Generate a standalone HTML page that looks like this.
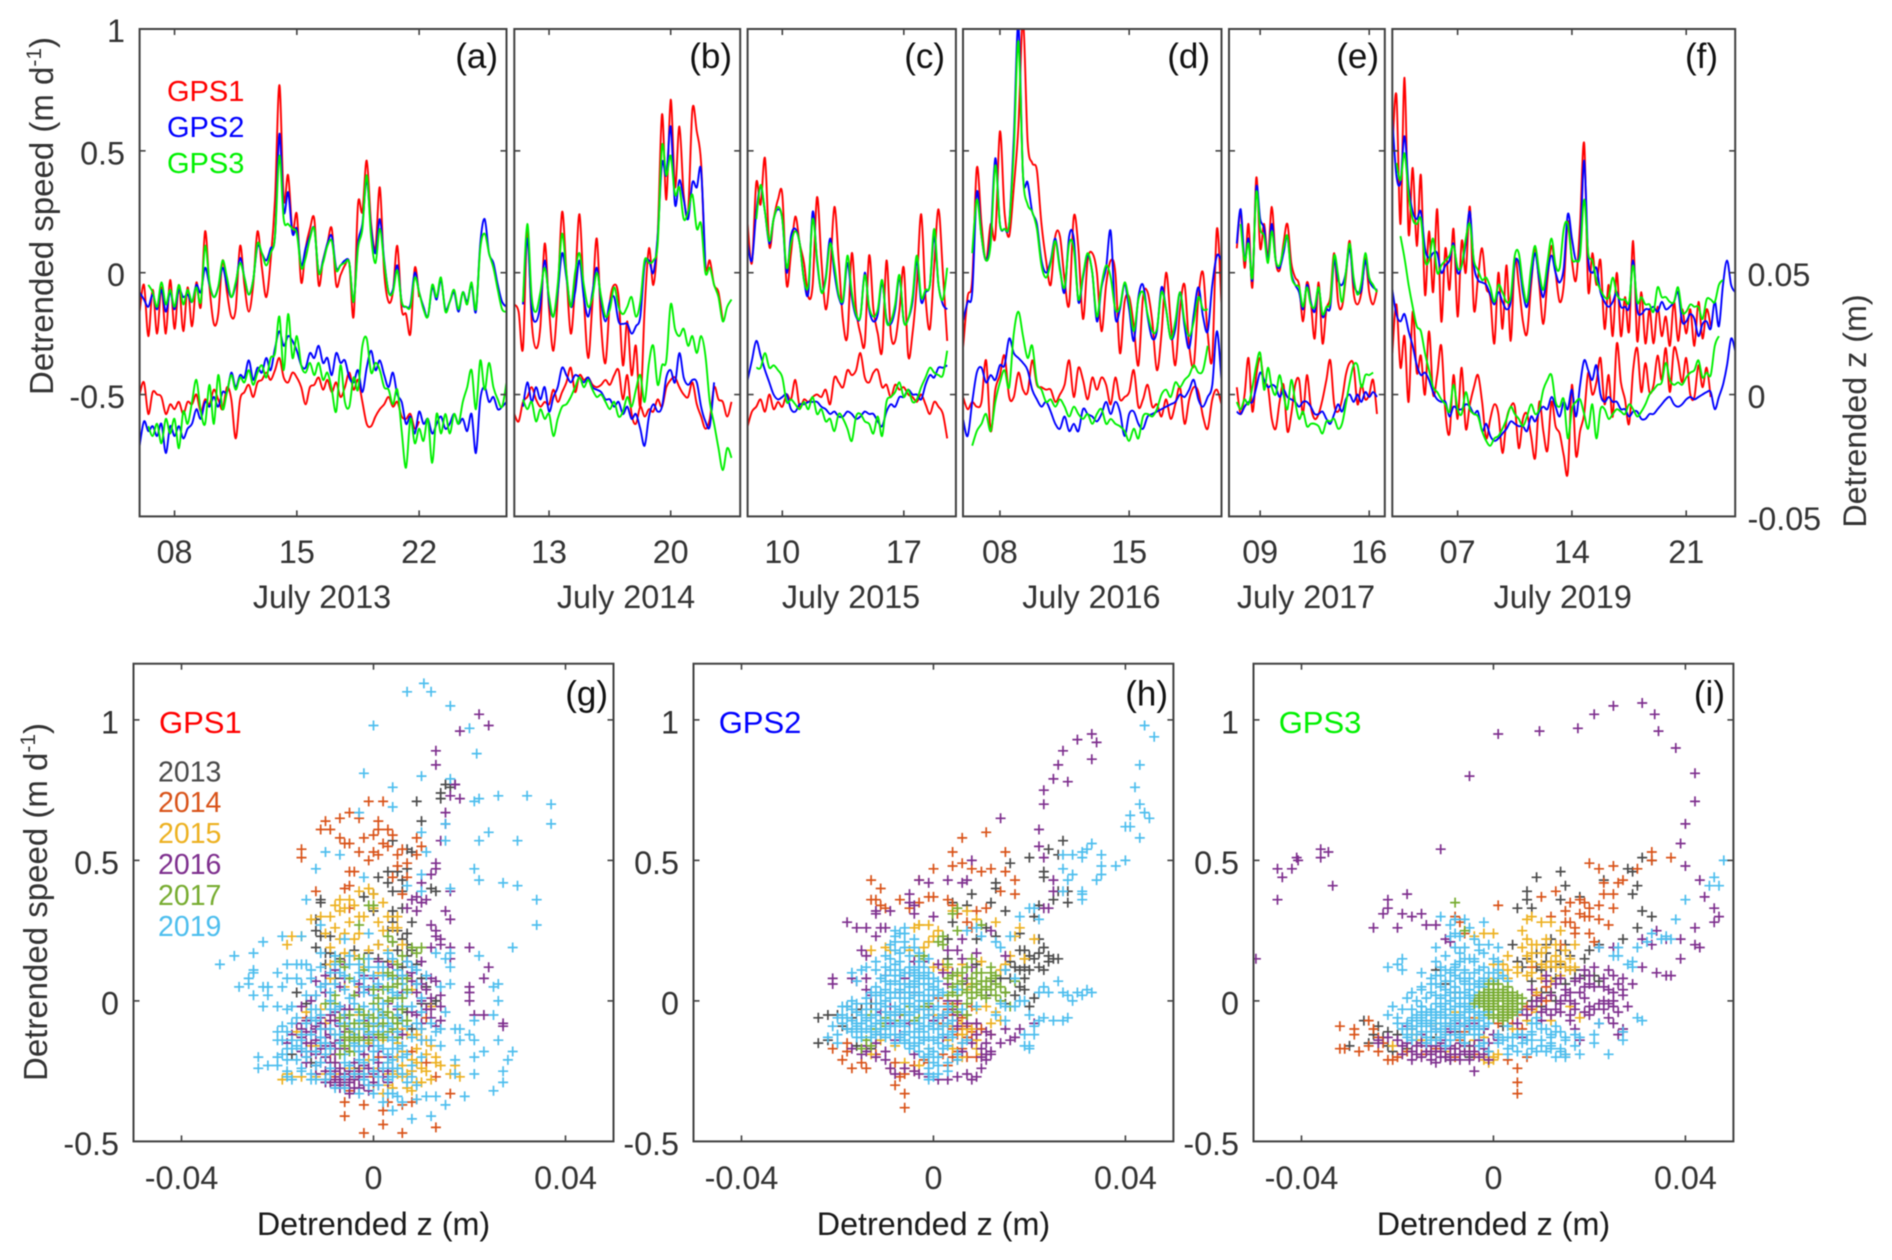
<!DOCTYPE html>
<html><head><meta charset="utf-8"><title>Detrended speed and elevation</title>
<style>html,body{margin:0;padding:0;background:#fff}svg{display:block;filter:blur(.5px)}text{font-family:"Liberation Sans",Arial,sans-serif;fill:#333}</style>
</head><body>
<svg id="figure" width="1892" height="1260" viewBox="0 0 1892 1260" xmlns="http://www.w3.org/2000/svg"></svg>
<script>
// ---------- Data: speed in cm/d, z in mm, sampled every quarter day ----------
const sampleStep=0.25;
const speedA1=[-16,-5,-26,-7,-25,-6,-25,-3,-23,-5,-24,-6,-22,-4,-14,17,-6,-21,-17,5,-8,-18,-15,11,-5,-16,-5,17,2,-10,5,30,77,30,40,17,24,-4,10,18,22,-5,5,12,18,-5,-1,3,4,-18,28,25,46,20,10,35,0,-12,-8,11,-15,-17,-25,2,-10];
const speedA2=[-8,-11,-14,-9,-15,-7,-16,-8,-15,-7,-10,-9,-12,-5,-8,2,-5,-10,-6,2,-5,-10,-5,6,-2,-9,-3,11,8,5,10,15,57,25,33,16,18,3,10,15,18,0,5,12,15,2,3,5,4,-12,12,20,38,18,8,22,5,-8,-7,3,-12,-14,-13,0,-8,-14,-18,-6,-11,-3,-15,-12,-8,-16,-8,-12,-5,-16,12,22,8,4,-5,-12,-14];
const speedA3=[-5,-8,-14,-4,-13,-7,-14,-5,-13,-7,-12,-6,-12,11,-4,-10,-6,5,-2,-10,-4,4,-2,-9,-3,12,8,3,8,15,48,22,20,18,16,2,6,14,18,0,4,11,13,1,3,4,4,-12,10,18,40,15,4,18,4,-8,-8,1,-12,-14,-14,-2,-8,-15,-18,-5,-10,-2,-16,-12,-7,-15,-8,-13,-4,-15,10,16,8,2,-7,-15,-16];
const zA1=[0,5,-8,1,0,-1,-8,-4,-6,-3,-8,-3,-4,0,-7,-2,-4,2,-2,-6,3,-2,-18,-2,1,4,-1,5,6,9,6,10,15,7,5,9,7,3,-4,3,4,7,2,6,1,5,-1,3,9,2,6,-3,-12,-13,-9,-6,-4,-1,-5,-3,-9,-10,-8,-14,-11];
const zA2=[-21,-11,-15,-13,-17,-12,-24,-13,-17,-13,-18,-14,-12,-6,-10,-3,-5,-1,-5,1,1,9,3,8,7,14,6,11,9,15,10,19,26,20,24,22,18,12,11,17,15,20,13,15,8,17,13,14,7,5,10,1,11,18,10,14,8,3,9,0,-3,-12,-9,-16,-7,-12,-10,-16,-12,-9,-14,-12,-8,-12,-10,-15,-8,-24,-2,3,-3,-1,-6,-5,-3];
const zA3=[-13,-17,-12,-20,-10,-16,-10,-22,-7,-12,-3,6,-7,-12,4,-12,8,-6,1,8,2,7,5,10,4,9,12,7,15,17,32,10,33,15,24,12,9,13,8,13,6,9,2,-7,12,-3,-5,7,2,20,23,9,13,10,3,2,-4,2,-15,-30,-10,-20,-14,-19,-10,-28,-8,-16,-8,-16,-8,-12,-3,3,10,-6,14,2,13,3,-2,-5,5];
const speedB1=[-13,-16,-31,18,-20,-31,-22,12,-15,-32,-10,25,0,-25,-5,24,-10,-35,-12,14,-22,-37,-12,-5,-10,-38,-20,-42,-30,-55,-15,10,-5,15,65,30,71,35,60,32,25,67,58,45,3,5,-5,-8,-20];
const speedB2=[-13,14,-15,-20,-13,5,-12,-18,-8,8,-2,-14,-8,5,-10,-18,-8,2,-12,-20,-12,-10,-20,-21,-21,-25,-22,-18,3,5,0,15,45,40,60,28,38,30,22,37,35,42,2];
const speedB3=[-12,20,-10,-16,-8,2,-10,-18,-5,16,0,-14,0,8,-5,-14,-10,0,-10,-18,-15,-6,-14,-17,-14,-10,-18,-12,5,4,5,12,52,40,48,32,35,22,25,32,18,20,0,2,-5,-10,-20,-14,-11];
const zB1=[-8,-11,-3,-1,3,-2,-5,-3,-4,2,-3,1,5,11,1,8,6,7,4,3,4,6,4,8,10,-2,8,-8,-12,-5,-9,-6,-7,-2,-5,3,6,7,3,0,-1,5,-4,-9,-14,-10,3,-2,-3,-9,-3];
const zB2=[-5,5,-3,3,-2,3,-7,-1,3,11,8,5,8,7,5,7,3,2,1,-2,-2,-5,-3,-8,-5,-10,-8,-14,-21,-9,-4,-7,-5,7,10,5,17,7,4,6,5,-5,-11,-13,5];
const zB3=[-2,-6,-3,-11,-6,-10,-8,-17,-10,-5,-4,-1,3,7,3,6,2,-1,0,-3,-6,-3,-9,-7,-1,-5,2,8,-3,13,20,4,12,14,37,27,24,27,20,24,17,24,16,-3,-12,-22,-31,-22,-26];
const speedC1=[20,4,37,28,47,11,22,30,32,-5,8,23,12,4,-10,-5,31,5,-15,0,27,5,-20,-26,8,-15,-25,-29,7,-15,-25,-32,5,-25,-28,-15,2,-34,-25,-5,24,-10,-23,3,26,0,-28];
const speedC2=[12,5,25,35,25,12,22,26,22,0,15,18,12,-3,-8,25,5,-8,-2,14,0,-10,-12,4,-10,-18,-18,0,-15,-20,-17,-4,-19,-21,-15,-2,-20,-19,-12,5,-12,-8,-5,15,-5,-13,-15];
const speedC3=[22,36,25,13,22,27,22,2,12,17,12,-3,-5,22,6,-8,-3,12,3,-9,-11,7,-8,-17,-18,-1,-14,-18,-15,-3,-20,-20,-13,-1,-20,-19,-10,7,-10,-7,-5,18,-5,-11,2];
const zC1=[-13,-7,-5,-2,-7,0,-6,-3,-5,0,-2,6,-5,-2,-3,-1,0,-1,2,-4,7,5,3,10,8,10,17,7,5,9,10,3,4,-1,4,2,3,0,-1,-3,0,-4,-8,-3,-5,-8,-18];
const zC2=[6,14,22,16,10,5,0,-2,-1,0,-6,-7,-4,-4,-3,-3,-3,-5,-6,-8,-7,-9,-9,-7,-8,-10,-9,-7,-8,-8,-11,-13,-7,-4,-5,-1,-1,2,0,0,-2,4,8,7,11,11,12];
const zC3=[11,11,17,11,12,10,7,-3,-2,-4,-6,-3,-6,-1,-8,-6,-11,-10,-15,-8,-10,-14,-19,-9,-8,-11,-12,-16,-9,-17,-3,-1,1,5,-1,2,-3,-2,3,7,11,9,8,8,18];
const speedD1=[-31,-10,-3,43,20,5,20,15,58,25,15,35,60,104,54,45,42,20,5,-5,15,15,-3,-13,23,10,-19,5,8,0,-24,-5,5,0,-33,-12,-10,-22,-38,-10,-8,-20,-40,-25,0,-20,-38,-15,-5,-30,-38,-10,0,-25,-35,18,-13];
const speedD2=[-20,-12,-8,33,15,5,15,47,20,18,20,55,102,40,37,25,20,5,0,5,14,2,-8,15,14,-12,-2,7,0,-20,-6,2,17,-18,-15,-5,-15,-28,-10,-5,-18,-27,-24,-6,-15,-27,-23,-8,-22,-31,-17,-6,-18,-24,-5,7,5];
const speedD3=[8,30,15,5,12,44,20,18,20,50,95,40,28,25,18,3,-2,4,13,1,-6,12,10,-11,-1,8,0,-18,-5,3,-2,-15,-14,-4,-12,-24,-11,-8,-17,-24,-23,-8,-15,-27,-20,-8,-20,-26,-20,-10,-15,-15];
const zD1=[-1,-6,-3,-5,-3,14,-15,2,8,16,-1,-1,9,2,1,14,4,3,2,2,-3,0,4,14,-1,11,6,-2,7,2,7,4,-4,7,-2,-1,1,10,-5,-2,4,-5,-4,-9,-2,-10,-4,3,-12,-2,3,1,-9,-14,-2,2,-4];
const zD2=[-10,-17,-3,9,11,5,8,6,12,12,23,17,15,13,10,2,-2,-5,-3,-7,-12,-14,-9,-15,-12,-15,-6,-8,-9,-11,-8,-3,-8,-3,-7,-17,-8,-7,-12,-14,-9,-8,-7,-6,-5,-4,-3,0,-1,2,6,-2,-5,-1,4,26,6];
const zD3=[-21,-15,-12,-8,-15,-3,5,10,3,25,34,24,15,20,5,2,-3,-2,-5,-2,-5,-9,-5,-8,-10,-8,-12,-8,-6,-12,-10,-12,-13,-15,-19,-14,-18,-9,-8,-9,-6,0,2,-1,5,3,6,8,12,9,10,20];
const speedE1=[10,25,2,20,-6,39,10,20,6,27,5,1,12,20,4,-2,-5,-20,-4,-12,-27,-4,-29,-15,-10,8,-12,-14,-2,13,-8,-13,-8,6,-8,-13,-7];
const speedE2=[12,26,5,14,-3,35,22,18,5,20,5,2,8,15,0,-5,-8,-15,-5,-12,-16,-6,-18,-15,-14,5,-3,-5,0,10,-4,-8,-7,5,-3,-6,-7];
const speedE3=[20,5,12,-2,33,18,15,4,17,5,3,10,15,-1,-5,-6,-14,-6,-13,-14,-6,-17,-14,-12,7,-1,-12,0,12,-2,-9,-4,8,-2,-5,-8];
const zE1=[3,-8,0,15,-7,8,15,5,3,-10,-14,-3,4,-15,-8,4,6,-8,8,-5,-10,-8,-2,6,14,-4,-7,-2,8,13,12,-4,4,-2,0,6,-8];
const zE2=[-7,-8,-5,-3,-3,3,9,6,3,4,3,-1,2,-1,-2,-3,-5,-3,-3,-5,-8,-8,-7,-10,-12,-8,-4,-7,-2,0,-3,0,-3,1,-1,1,-1];
const zE3=[-3,-6,-2,-4,3,12,17,2,11,3,0,8,0,-6,6,-3,-10,-7,-13,-12,-12,-13,-16,-11,-11,-10,-14,-12,-4,5,12,12,3,8,8,9];
const speedF1=[50,73,20,80,16,43,11,40,-9,17,-8,26,-20,10,-7,18,-18,13,0,27,-15,-2,10,-6,-10,-29,0,-23,3,-28,5,-5,-20,-25,-5,10,-5,-21,-3,11,0,-12,-5,21,5,-3,20,53,-7,8,-5,5,-23,-5,-26,0,-26,-10,-24,13,-28,-8,-29,-15,-29,-14,-26,-18,-30,-12,-28,-15,-25,-15,-30,-12,-27,-15,-22];
const speedF2=[63,40,37,56,35,25,22,25,10,6,8,8,0,3,5,12,0,3,12,25,3,-3,-4,-5,-9,-13,-8,-12,-15,-12,4,4,-8,-14,-2,8,-3,-10,0,7,0,-4,2,24,14,5,10,46,6,0,2,-8,-12,-14,-12,-8,-14,-14,-14,5,-15,-17,-15,-15,-14,-16,-12,-15,-14,-12,-8,-20,-20,-17,-19,-26,-21,-20,-23,-12,-22,-5,5,-5,-8];
const speedF3=[45,38,49,32,22,20,22,5,5,14,0,3,5,7,11,2,3,14,20,5,1,-3,-2,-6,-12,-5,-8,-12,-10,7,8,-5,-12,2,11,0,-7,4,14,3,2,18,20,6,5,7,30,8,5,-3,-7,-10,-10,-2,-9,-11,-11,-12,3,-12,-10,-13,-13,-16,-6,-10,-10,-12,-12,-6,-16,-16,-13,-14,-14,-19,-11,-11,-12,-5,-3];
const zF1=[17,37,11,24,-3,34,9,16,0,26,0,8,20,-7,-16,8,-10,11,-14,-4,3,8,-3,-18,-10,-4,-8,-24,-10,-5,-5,-22,-10,-8,-17,-26,-3,-15,-23,-3,-13,-16,-25,-32,4,-25,-15,-8,9,0,5,15,-4,8,-9,21,5,-2,-12,10,19,1,13,1,4,16,6,19,1,19,14,5,15,0,-1,12,3,11,-1];
const zF2=[43,33,30,33,26,20,12,8,9,6,1,-2,-3,-3,-9,-5,-6,-6,-4,-5,-8,-7,-15,-12,-17,-19,-18,-16,-14,-11,-12,-13,-13,-15,-9,-11,-7,-5,-6,-1,-5,-9,-3,-6,2,-9,4,14,10,6,12,0,-3,-1,-3,-3,-6,-6,-9,-7,-7,-10,-10,-8,-8,-6,-4,-2,-1,-4,-5,-4,-2,-1,-2,-1,0,1,1,-6,-1,4,12,23,18];
const zF3=[65,56,45,36,28,26,17,10,3,1,-2,-4,-7,4,-6,-8,1,-6,-8,-9,-15,-19,-21,-18,-17,-14,-10,-5,-8,-10,-13,-9,-4,-8,-6,2,6,8,-3,-5,-2,-18,-6,-3,-2,-8,-14,-4,-18,-6,-6,-10,-8,-6,-7,-8,-4,-6,-9,-7,-4,0,2,4,5,13,6,4,5,4,7,9,10,14,7,9,8,20,24];

const panelLimitsA=[6,27],panelLimitsB=[11,24],panelLimitsC=[8,20],panelLimitsD=[6,20],panelLimitsE=[7,17],panelLimitsF=[3,24];
const dayTicksA=[8,15,22],dayTicksB=[13,20],dayTicksC=[10,17],dayTicksD=[8,15],dayTicksE=[9,16],dayTicksF=[7,14,21];
const dayLabelsA=['08','15','22'],dayLabelsB=['13','20'],dayLabelsC=['10','17'],dayLabelsD=['08','15'],dayLabelsE=['09','16'],dayLabelsF=['07','14','21'];
const monthLabels=['July 2013','July 2014','July 2015','July 2016','July 2017','July 2019'];
const speedStartsA=[6,6,6.5],speedStartsB=[11,11.5,11.5],speedStartsC=[8,8,8.5],speedStartsD=[6,6,6.5],speedStartsE=[7.5,7.5,7.75],speedStartsF=[3,3,3.25];
const zStartsA=[6,6,6.5],zStartsB=[11,11.5,11.5],zStartsC=[8,8,8.5],zStartsD=[6,6,6.5],zStartsE=[7.5,7.5,7.5],zStartsF=[3,3,3.5];
const speedTicks=[50,0,-50],speedTickLabels=['1','0.5','0','-0.5'];
const zRightTicks=[50,0,-50],zRightLabels=['0.05','0','-0.05'];

const years=['2013','2014','2015','2016','2017','2019'];
const yearColors=['#4a4a4a','#d95319','#edb120','#7e2f8e','#77ac30','#4dbeee'];
// Scatter pairs: z (mm), speed (cm/d), z, speed, ...
const g2013=[15,77,16,76,14,74,14,72,9,71,10,64,4,57,7,54,8,53,7,47,5,46,3,46,1,44,3,42,6,43,6,39,4,39,12,40,13,39,0,38,-2,37,-11,36,-11,35,0,32,4,32,6,33,4,28,8,28,-12,29,-12,25,-11,23,-12,19,-10,17,-9,17,-10,13,6,22,7,24,7,20,8,18,5,18,-1,17,1,15,3,14,6,12,9,6,10,-1,12,-1,13,0,7,-4,-14,-1,-16,3,-17,-19,-13,-22,-3,-24,-2,-19,2,-9,5,-6,8,-10,-6,-5,-8,8,3,25,5,25,7,16,9,13,10,8,11,5,4,21,1,20,-9,23,-7,15,-4,18];
const g2014=[-1,71,2,71,-10,64,-7,65,-5,67,-3,65,1,64,-11,61,-9,61,-7,58,-6,56,-5,56,-2,58,0,59,1,61,3,61,4,59,2,56,-3,53,0,53,-1,50,1,52,3,55,6,54,7,49,9,58,10,55,9,52,-15,54,-15,51,-5,46,-4,46,5,48,4,44,-6,40,-5,41,-12,39,-5,33,5,52,7,44,6,38,-10,-28,-6,-30,-5,-32,-6,-36,-6,-41,-2,-37,-2,-47,6,-47,2,-44,2,-39,3,-36,6,-37,8,-36,9,-35,13,-45,16,-33,13,-27,-8,-27,-4,-28,0,-27,5,-20,8,-25,11,-22,10,-14,11,-6,-14,-6,-9,-19,-4,-12,1,-20,5,-3,8,-18];
const g2015=[-18,20,-17,23,-15,23,-13,29,-9,30,-7,36,-6,33,-5,28,-7,32,-3,39,-1,40,-4,34,-2,30,0,33,1,28,-3,24,-7,22,-9,19,-8,14,-4,22,-1,18,2,25,4,26,3,18,5,30,-2,12,2,10,-6,5,-9,8,-18,-26,-19,-28,-17,-27,-12,-27,-10,-26,0,-30,3,-30,6,-27,8,-25,9,-29,11,-25,13,-22,16,-26,18,-27,17,-23,4,-31,8,-32,4,-25,7,-12,9,-17,5,-15,-12,-16,-8,-22,-5,-18,-1,-15,-3,-5,3,0,8,4,-6,-14,11,-19,13,-20,-2,-24,3,-22,-11,-3,-16,-11,5,-8,10,-10,-14,-4,-13,-16,-10,-8,-8,-12,-7,-26,-5,-24,-3,-26,-1,-21,1,-24,2,-14,3,-26,5,-26,6,-10,6,-23,7,-26,8,-21,9,-12,10,-24,11,-14,12,-2,-3,5,1,10,4,14,6,20,-6,17,-10,24,-8,26,-8,34,-5,36,-3,30,0,38,2,35,1,20,3,30,5,26,-4,16,-11,30,-6,24,-9,13,7,-31,2,-33,10,-29,12,-28,14,-23,-15,-27,5,-20,9,-22,12,-16,6,-18];
const g2016=[22,102,24,98,18,96,13,89,13,84,17,77,17,77,16,73,18,72,15,67,15,63,14,57,13,49,13,47,12,45,10,42,11,36,8,36,10,35,9,32,7,33,9,37,16,39,15,32,16,29,14,22,13,25,12,27,13,23,14,20,12,19,16,15,16,19,20,19,24,12,23,8,20,5,20,3,20,0,21,-5,23,-5,27,-8,27,-9,14,2,14,-2,13,7,12,8,10,6,8,10,8,12,7,14,7,9,3,12,-6,13,-10,9,-12,7,-15,-2,-14,-7,-15,-10,-12,-10,-11,-8,-13,-11,-12,-14,-10,-13,-9,-16,-8,-15,-7,-14,-6,-11,-14,-15,-17,-12,-18,-15,-15,-18,-14,-22,-10,-20,-8,-22,-12,-23,-9,-26,-8,-28,-7,-29,-6,-30,-4,-28,-8,-30,-5,-33,-2,-30,-1,-32,1,-30,4,-24,-3,-25,-2,-23,1,-22,3,-20,-1,-8,2,-5,-5,-3,-9,-1,-3,6,-1,4,3,9,8,-4,10,-8,6,-12,12,-3,-2,-13,4,-11,-7,-2,-10,3,-7,5,-13,0,-9,-7,4,13,10,14,1,14,-16,-8,-15,-13,-14,-11,-13,-7,-13,-15,-13,-18,-12,-9,-12,-19,-11,-6,-11,-17,-11,-22,-10,-10,-10,-16,-10,-25,-9,-12,-9,-22,-9,-29,-8,-7,-8,-19,-8,-25,-7,-9,-7,-17,-7,-24,-7,-27,-6,-6,-6,-17,-6,-26,-6,-28,-5,-13,-5,-25,-5,-29,-4,-22,-4,-31,-3,-16,-3,-28,-2,-19,-2,-27,-1,-24,0,-26,0,-13,1,-18,2,-27,3,-25,-4,2,-6,8,-2,9,-8,11,1,5,5,8,9,3,10,0,11,4,12,-6,14,-7,5,-3,-1,-16,-14,-20,-12,-26,-10,-29,-7,-31,-4,-27,-3,-31,0,-29,1,-25,3,-29,-12,2,-10,6,-8,-4,-6,-3,-3,3,0,8,3,-1,6,3,8,7,9,-5,11,-3,12,1,13,-9,-2,-7,-1,-12,1,-8,-5,-10,-9,-5];
const g2017=[-7,14,-3,15,-5,8,-8,2,-8,-1,-10,-1,-7,-15,-5,-18,-5,-14,-3,-10,-2,-8,-1,-5,1,-3,3,0,5,2,6,6,4,5,7,8,9,17,10,19,8,19,4,21,3,23,6,16,6,8,4,1,2,-5,1,-9,3,-11,5,-13,-3,-14,-4,-18,-5,-11,-1,-11,0,-1,2,4,-2,11,-4,2,-6,12,-1,34,0,34,-3,27,-2,15,5,-5,4,-10];
const g2017core=[-7,-6,-6,-9,-6,-16,-5,-5,-4,-8,-4,-13,-3,-3,-3,-13,-2,-5,-1,-9,0,-6,0,4,1,-12,1,1,2,-8,2,-13,3,-4,3,5,4,-6,4,9,5,6,5,-8,5,13,6,-3,6,1,7,4,7,-7,3,10,-1,-14,-6,-13,-7,-19];
const g2019=[10.5,113,7,110,12,110,16,105,0,98,20,97,21.5,88,-2,81,10,80,16,79,4,76,21,71,22,72,26,73,32,73,37,70,37,63,24,60,10,60,22,57,30,57,21,47,22,43,27,42,30,41,34,36,34,27,29,19,22,16,15,63,15,57,11,53,4,69,-3,67,-10,53,-7,52,-12,47,-2,44,10,45,7,41,10,39,16,40,-14,36,-11,27,-15,23,-19,23,-23,21,-25,17,-29,16,-32,13,-25,10,-25,11,-26,8,-28,5,-26,6,-23,5,-22,5,-25,2,-23,-2,-20,-2,-18,8,-16,13,-14,13,26,6,25,5,26,0,25,-5,21,-7,18,-10,17,-10,20,-12,18,-14,21,-14,26,-14,29,-18,28,-21,23,-18,21,-20,17,-21,17,-26,21,-26,27,-25,27,-29,25,-32,19,-34,15,-37,13,-34,11,-34,9,-35,12,-41,8,-42,4,-39,-19,5,-22,2,-18,-3,-17,-8,-18,-11,-20,-14,-20,-20,-24,-20,-24,-24,-22,-23,-20,-23,-18,-25,-15,-24,-12,-23,-18,-27,-17,-28,-13,-28,-19,-19,-15,-17,-12,-7,-14,2,-13,8,-16,8,-15,13,-18,13,-20,10,-22,5,-11,5,-9,0,-7,-2,-6,4,-7,10,-4,7,-2,3,0,5,2,9,4,3,5,-2,3,-6,0,-3,-3,-4,-6,-8,-9,-10,-11,-13,-7,-15,-4,-12,-2,-10,0,-14,-4,-16,-6,-19,-8,-12,-5,-8,2,-12,4,-17,6,-20,3,-22,0,-25,-2,-28,1,-30,3,-33,1,-27,4,-27,8,-23,10,-14,6,-7,10,-4,12,-8,14,-16,7,14,9,11,11,9,14,5,16,6,-8,16,-6,22,-1,24,3,17,-11,17,-9,3,-13,-6,-9,-17,14,-10,16,12,15,15,13,17,16,17];
const g2019core=[-17,-2,-16,-6,-15,-12,-16,-16,-14,-20,-13,-3,-12,2,-11,-5,-11,-10,-10,-15,-10,-19,-9,-24,-9,-26,-9,10,-8,6,-8,-3,-7,-8,-7,-19,-6,-22,-6,-27,-5,13,-5,1,-5,-5,-5,-23,-4,-1,-4,-10,-4,-26,-3,10,-3,-7,-3,-13,-3,-18,-2,8,-2,-2,-2,-16,-2,-22,-1,12,-1,-6,-1,-12,-1,-30,0,2,0,-8,0,-18,0,-21,1,6,1,-6,1,-11,1,-16,2,12,2,-1,2,-4,2,-9,2,-24,3,4,3,-13,3,-19,3,-28,4,8,4,-8,4,-14,4,-24,4,-33,5,11,5,2,5,-5,5,-11,5,-24,6,6,6,-2,6,-16,6,-26,7,3,7,-9,7,-19,7,-29,8,-2,8,-13,8,-27,9,6,9,-8,10,1,10,-10,-12,-18,-13,-12,-14,-8,-11,-15,-9,-3,-7,-12,-6,-5,-4,-15,-3,-21,-2,-26,0,-11,2,-17,3,-9,4,-21,5,-17,-14,-18,-15,-14,-17,-14,-19,-9,-18,-17,-20,-11,-16,-21,-18,-21,-13,-26,-13,11,-11,12,-10,6,-8,13,-6,9,-5,16,-3,13,-2,5,-1,15,0,9,1,12,3,9,4,15,6,9,8,12,-15,6,-12,-3,-17,-17,-19,-14,-15,-25,-12,-28,-8,-31,-6,-31,-3,-33,0,-33,2,-36,5,-34,6,-36,9,-30,10,-20,12,-14,13,-11,15,-4,-10,-28,-11,-22];
const h2013=[27,57,24,54,26,52,16,49,20,51,23,46,23,44,13,42,13,40,26,39,28,39,25,36,28,35,22,34,21,30,12,35,15,32,8,38,7,34,4,35,4,28,9,22,11,26,13,23,18,24,22,22,23,19,24,14,25,15,26,15,19,15,20,16,18,11,16,14,19,8,14,8,15,3,19,4,21,1,20,-2,15,-1,11,2,12,7,9,13,9,10,3,22,3,15,7,6,-12,-1,-16,-3,-20,-5,-22,-5,-24,-15,-22,-14,-18,-10,-17,-6,-15,-3,-13,-1,-16,-16,-13,-17,15,11,16,8,17,12,18,5,17,2,19,12,20,11,21,15,22,17,-24,-6,-19,-9,-18,-2,18,18,19,18,22,12,24,16,23,11];
const h2014=[6,58,11,60,4,53,15,53,0,47,4,48,6,49,8,47,10,46,12,47,15,46,17,43,17,38,14,39,-3,43,-13,43,-11,40,-13,36,-12,36,-11,34,-10,33,-7,36,-5,33,-3,35,-1,37,0,37,3,36,4,34,5,31,9,32,11,33,8,26,7,28,-12,-19,-21,-17,-18,-15,-18,-18,-19,-21,-17,-24,-15,-22,-14,-24,-9,-24,-8,-30,-6,-33,-6,-38,-7,-27,-6,-26,-4,-25,-1,-22,3,-23,5,-21,6,-15,5,-12,4,-5,3,-1,5,-1,7,-9,1,1,-1,-3,3,-8,1,-8,2,-5,3,-3,4,-10,5,-7,6,-10,7,-13,8,-11,6,-17,4,-20,-4,-23,-6,-24,-8,-22,-2,-21,2,-19,6,-6,8,-2,3,-14,9,-14,5,-18,7,-20,9,-20,10,-10,7,-5,9,-8,8,-14];
const h2015=[-4,26,-3,27,-1,27,-3,27,1,25,0,23,-1,21,-2,19,-10,19,-13,18,-9,18,-5,18,-3,14,0,12,2,13,3,12,2,11,6,13,5,9,10,14,7,4,8,6,14,11,15,13,16,16,19,15,21,22,18,26,17,23,13,28,9,29,7,32,4,32,9,-3,11,-2,12,-8,14,-7,7,-10,3,-14,-1,-17,-8,-16,-11,-14,-13,-19,-6,-22,-3,-23,4,-17,6,-20,2,-9,0,-5,4,-2,9,-17,6,-12,4,-9,6,-8,8,-10,9,-14,10,-19,12,-12,13,-4];
const h2016=[33,95,34,92,30,93,27,89,26,84,25,79,28,78,33,86,23,75,23,70,14,65,22,61,22,55,23,51,25,43,25,39,24,33,23,33,8,50,7,43,6,42,3,43,-1,42,-3,43,-5,38,-5,35,-4,34,-4,31,-9,32,-12,32,-12,31,0,30,-10,26,-11,26,-12,23,-14,26,-18,28,-16,26,-15,18,-14,16,-14,8,-16,7,-17,8,-21,8,-21,6,-14,4,-13,2,-10,9,-7,3,-5,10,-4,14,-2,14,-6,8,-4,3,-7,-5,-5,-8,-9,-8,-11,-12,-14,-16,-17,-17,-12,-15,-14,-18,-10,-21,-9,-24,-8,-26,-6,-24,-4,-25,-3,-26,-1,-27,1,-28,3,-28,5,-27,7,-26,8,-28,9,-27,10,-24,11,-21,12,-19,11,-19,12,-18,-1,-26,10,-17,14,-15,16,-14,15,-10,17,-13,21,-8,18,-10,3,0,5,0,7,8,8,12,6,15,1,13,2,10,3,18,9,17,12,25,15,16,5,-5,7,-8,9,-8,11,-11,0,-7,-1,-2,-3,-3,-9,-2,-11,-4,2,-13,2,-6,4,-3,5,-9,6,-18,8,-15,9,-12,10,-20,11,-15,12,-12,-10,-18,-8,-14,-7,-12,-4,-19,-12,-20,-15,-19,0,2,3,6,4,10,5,18,6,22];
const h2017=[-15,-17,-13,-16,-14,-14,-12,-10,-11,-8,-10,-9,-8,-7,-6,-5,-4,-7,-3,-6,-5,-2,-2,-2,-2,16,-2,15,1,21,2,23,2,20,-3,16,3,13,4,5,4,9,5,10,6,4,7,3,8,8,9,10,10,7,12,8,12,10,11,5,10,4,13,2,14,0,15,3,16,-2,17,7,5,25,10,27,5,33,4,31,8,15,7,12,4,3,3,2,5,-4,-1,-1,-13,-5,-10,-6,7,-5,4,-2,5,2,6,7,6,10,7,-1,8,1,8,5,9,3,9,6,10,2,10,10,11,1,11,7,12,4,12,12,13,6,14,5,3,8,5,6,13,9];
const h2019=[44,98,46,94,43,84,42,76,43,70,41,66,44,67,45,65,40,62,41,62,43,58,33,56,32,54,31,53,29,52,27,52,35,52,31,51,35,48,38,48,40,50,27,47,35,45,29,45,34,43,28,43,31,39,31,38,31,36,27,39,21,33,22,29,20,33,18,30,26,7,27,3,33,3,30,3,32,4,31,2,29,0,28,2,23,5,24,3,22,3,18,0,17,-2,20,-5,23,-6,25,-7,27,-7,28,-6,22,-7,21,-9,19,-12,21,-12,20,-16,19,-16,20,-17,15,-7,15,-2,14,-1,13,-5,-18,-10,-20,-12,-17,-7,-19,-5,-18,-2,-16,-4,-15,-8,-13,-9,-12,-5,-10,-4,-11,-1,-14,-1,-12,2,-9,3,-8,-2,-6,-4,-7,1,-5,3,-3,0,-4,5,-2,6,-10,7,-8,9,-5,10,-7,11,-3,12,-1,8,0,5,2,3,-1,0,1,-2,3,-4,-2,-6,-4,-8,-6,-9,-9,-9,-11,-10,-14,-10,-13,-13,-10,-13,-8,-12,-6,-14,-4,-13,-2,-11,0,-10,-5,-17,-3,-15,-1,-17,1,-15,2,-12,1,-20,-1,-24,0,-27,-1,-26,3,-22,5,-19,4,-11,7,-14,-8,25,-7,24,-8,21,-6,19,-10,16,-3,14,-12,11,-7,14,-15,11,-17,10,-16,7,-17,0,-20,-6,-22,-13,-16,-13,-18,-6,6,-3,9,-2,3,-8,5,4,7,25,9,26,10,23,13,21,14,19,16,23,15,11,19,0,17,8,-12,-3,-10,-7,-8,-5,-5,-1,-3,-10,-1,4,1,2,-6,6,-11,3,-14,-6,-16,-9,-12,-12,-9,-5,-6,-11,-4,-4,-2,0,-8,-9,-10,0,-3,8,-5,5,-7,6,-1,10,-4,9,-6,-15,-2,-14,-8,-15,-1,-20,2,-17,4,-13,3,-2];
const h2019core=[-19,-8,-18,-6,-17,-11,-17,-3,-16,-8,-16,-1,-15,-5,-15,-11,-14,-7,-14,-3,-14,1,-13,-6,-13,-11,-13,3,-12,-8,-12,-1,-12,5,-11,-7,-11,-12,-11,2,-11,8,-10,-10,-10,-2,-10,4,-10,9,-9,-7,-9,-12,-9,1,-9,6,-9,11,-8,-9,-8,-4,-8,3,-8,7,-8,13,-7,-8,-7,-3,-7,4,-7,9,-7,-13,-6,-1,-6,3,-6,10,-6,-7,-6,-12,-5,-5,-5,1,-5,6,-5,12,-5,-11,-5,-15,-4,-2,-4,2,-4,7,-4,11,-4,-11,-4,-16,-3,-3,-3,3,-3,6,-3,10,-3,-8,-3,-13,-3,-18,-2,-3,-2,2,-2,9,-2,12,-2,-9,-2,-14,-2,-20,-1,-5,-1,2,-1,6,-1,-9,-1,-13,-1,-19,0,-3,0,2,0,8,0,-8,0,-14,0,-18,0,-22,1,-6,1,4,1,7,1,-10,1,-13,1,-23,2,-5,2,-9,2,-17,3,-2,3,-12,3,-16,4,-7,-16,-10,-15,-13,-12,-11,-19,-2,-21,-9,-20,-15,-4,19,-6,24,-8,18,-9,15,-5,16,-7,17,-6,26,-8,23,-6,21,-4,22,-9,20,-3,17,-1,15,-12,14,-14,12,-10,12,6,-15,5,-21,3,-25,1,-26,-1,-28];
const i2013=[33,50,31,51,29,46,28,47,23,43,30,41,29,38,15,41,9,44,14,46,7,39,7,36,8,33,14,36,18,37,5,33,33,30,31,32,30,26,27,22,22,20,12,22,11,20,9,17,4,20,11,14,13,8,15,6,17,11,14,13,16,11,19,9,21,9,22,7,6,12,8,7,12,3,13,0,10,-2,-12,11,-10,6,-8,3,-27,-7,-24,-9,-22,-11,-20,-12,-16,-14,-12,-13,-8,-11,-25,-12,-23,-13,-30,-16,-26,-15,-21,-18,-10,-20,-9,-21,-5,-16,-2,-10,2,-9,8,0,10,3,5,14,7,15,9,12,11,17,12,12,14,18,15,20,16,16,17,8,19,15,20,18,10,11,13,14,-15,-15,-18,-17,-22,-16,-5,-20];
const i2014=[20,49,22,47,25,48,30,47,33,53,33,50,37,51,23,42,27,43,23,38,25,38,25,33,24,27,1,34,-8,30,-7,28,-6,24,10,37,13,39,19,35,20,33,20,24,21,21,15,32,12,30,-32,-9,-29,-10,-26,-7,-29,-12,-32,-17,-31,-17,-28,-18,-26,-16,-25,-10,-22,-21,-21,-21,-20,-20,-24,-13,-24,-18,-23,-15,-18,-18,-15,-19,-12,-17,-8,-20,-4,-19,5,-24,5,-29,5,-33,3,-21,7,-20,15,-19,-1,-18,1,-12,4,-8,-4,-6,-13,-9,-9,-8,-7,-14,8,12,10,8,14,20,11,0,-17,-10,-15,-12,-10,-11,-6,-11,-3,-6,1,-8,3,-3,5,-5,7,-2,9,2,11,5,12,2,17,24,16,35,18,36,19,30,22,34,26,42,15,28,16,28,18,31,20,30,17,26,22,29,6,-10,8,-3,10,0];
const i2015=[8,30,7,29,10,28,12,28,14,25,6,25,8,20,11,19,13,16,14,14,16,15,17,12,14,9,12,7,7,16,8,14,10,13,3,16,0,24,-2,24,-4,23,0,13,3,11,5,10,-2,5,9,-4,12,-7,18,-6,16,-2,-6,-16,-10,-18,-13,-18,-14,-14,-5,-19,-4,-14,-2,-19,-1,-20,0,-20,-2,-13,4,-10,-21,-16,-17,-12,-12,-8,-8,-4,7,-7,3,-5,-19,-19,-16,-14,-12,-14,-8,-17,-4,-16,-3,-6,-1,8,1,10,3,8,2,13,5,12,7,9,9,3,10,8,11,12,12,14,12,7,15,12,16,11,1,-19,-2,-21,-1,-22,0,-21,7,22,8,17,9,20,11,22,13,20,15,18,17,20,6,19,8,10,10,17,13,12];
const i2016=[-49.5,15,-45,36,-45,47,-44,44,-42,47,-41,51,-40.7,50,-36,51,-36,54,-34.4,53,-33.5,41,-5,80,1,95,-11,54,9.6,96,17.6,97,21,102,25,105,31,106,33.6,102,34.4,96,38,90,42,81,42,71,40,63,39,56,40,48,43,43,44,37,46,33,46,28,47,30,42,26,42,20,43,19,39,22,39,15,37,9,36,9,34,10,31,12,34,25,33,20,36,22,31,22,-22,36,-18,38,-22,33,-23,31,-25,26,-20,26,-19,31,-17,30,-15,31,-14,27,-12,27,-10,22,-9,21,22,19,25,19,23,8,25,9,24,11,27,8,29,6,26,6,27,4,27,2,28,-2,26,-4,25,-8,27,-10,27,-11,22,-8,26,-12,16,0,17,-1,18,3,19,5,20,6,17,-3,15,4,14,0,14,-1,12,-5,20,-2,23,0,25,0,16,-7,17,-10,18,-14,-20,-14,-19,-16,-17,-18,-15,-15,-14,-18,-13,-19,-12,-16,-11,-18,-10,-14,-10,-20,-9,-19,-8,-17,-7,-15,-6,-18,-5,-19,-4,-16,-3,-14,-2,-19,-1,-21,-15,-12,-12,-10,-9,-11,-7,-12,-16,-16,-24,-15,-24,-14,-22,-13,-18,-9,-4,-25,-2,-10,6,-13,5,-8,7,-5,10,-7,11,-3,9,0,8,4,10,1,11,7,6,-3,-19,-19,-18,-15,-17,-21,-16,-19,-15,-20,-14,-16,-13,-16,-13,-21,-12,-18,-12,-22,-11,-20,-11,-15,-10,-17,-9,-21,-9,-16,-8,-19,-7,-19,-7,-21,-6,-16,-5,-21,-4,-18,-3,-20,-2,-17,-1,-15,0,-12,1,-14,-9,-10,-7,-8,-6,-9,-4,-8,18,8,19,11,20,9,21,12,24,4,25,3,22,-1,23,-3,24,-6,19,-4,21,-3,16,-5,15,2,13,-3,13,6,11,9,8,-2,12,2,14,8,16,3,17,7,19,1,21,5,23,5,25,-2,20,-5,24,-1,14,-4,10,-4];
const i2017=[-8,35,-6,25,2,-2,3,-1,1,0,-1,2,-3,1,2,3,4,1,5,-1,-1,-2,1,-3,2,-4,4,-3,-1,-3,3,0,0,0,3,3,5,1,1,-5,-2,-1,4,-5,2,-7,-3,-1,0,4,3,-6,-4,-1,-3,0,-3,2,-2,-2,-2,1,-2,3,-1,-5,-1,-2,-1,0,-1,2,-1,4,0,-6,0,-3,0,-1,0,1,0,3,1,-6,1,-2,1,2,1,4,1,6,2,-5,2,-2,2,1,2,4,3,-5,3,-3,3,2,3,5,4,-4,4,-2,4,0,4,3,5,-3,5,-1,5,2,6,-1,6,1,-1,6,0,6];
const i2019=[48,50,46,44,45,41,47,41,40,36,38,29,33,24,36,23,37,22,35,22,32,21,30,19,29,14,28,13,29,12,26,16,25,16,26,19,22,19,-22,12,-20,13,-19,11,-19,15,-11,30,-8,29,-9,27,-6,29,-5,26,-2,28,-7,23,-9,23,-8,19,-7,17,-6,15,-5,15,-3,20,-1,20,1,19,-4,14,0,15,1,14,-12,19,-11,12,-8,11,-6,11,-12,9,-13,6,-15,5,-18,1,-17,3,-19,-3,-21,-2,-22,-5,-20,-8,-17,-6,-15,-4,-12,2,-10,4,-8,5,-6,7,-5,2,-4,-2,-3,5,-10,-3,-12,-5,-8,-7,-6,-4,-4,-7,-2,-9,-3,-4,-5,-1,-7,-2,-9,0,-10,-6,-13,-9,-15,-8,-17,-9,-16,-12,-18,-13,-13,-14,-11,-11,-9,-9,-7,-13,-5,-10,-3,-12,-1,-8,-2,-6,1,-12,3,-9,5,-12,4,-16,7,-14,8,-11,8,-17,10,-14,11,-18,12,-15,13,-11,14,-17,15,-19,18,-19,18,-13,21,-12,21,-15,24,-19,27,-14,27,-11,22,-8,30,-6,31,-7,15,-20,10,-16,13,-20,3,-19,1,-15,-4,-9,-6,-12,-1,-4,-2,-1,-7,1,-6,-8,-8,-5,-11,-10,-14,-15,-13,-3,-10,-6,-14,-4,-17,-3,-15,-6,-6,-8,-5,-3,-3,-7,-6,-2,-8,-12,2,-14,-1,-18,-3,-16,-4,-10,-6,-6,-12,-4,-15,-2,-13,-8,-3,-10,-4,0,-8,-6,-11,-2,-2,-4,9,-6,5,-4,-8,12,-3,6,-3];
const i2019core=[-20,-6,-19,-10,-18,-8,-18,-12,-17,-7,-17,-10,-17,-14,-16,-5,-16,-9,-16,0,-15,-2,-15,-7,-15,-11,-15,4,-14,-5,-14,-9,-14,-13,-14,1,-13,-3,-13,-7,-13,-11,-13,3,-13,8,-12,-6,-12,-1,-12,6,-12,-10,-12,-14,-11,-8,-11,-4,-11,1,-11,5,-11,9,-11,-13,-10,-9,-10,-5,-10,-1,-10,2,-10,7,-10,11,-10,-12,-9,-8,-9,-3,-9,3,-9,7,-9,10,-9,-14,-8,-10,-8,-6,-8,-2,-8,1,-8,5,-8,9,-8,13,-7,-9,-7,-5,-7,-1,-7,3,-7,8,-7,-13,-6,-6,-6,-2,-6,1,-6,3,-6,6,-6,10,-5,-7,-5,-4,-5,1,-5,4,-5,8,-5,-10,-4,-4,-4,-1,-4,2,-4,6,-4,10,-4,-12,-3,-5,-3,-2,-3,1,-3,3,-3,7,-3,11,-3,-9,-2,-4,-2,0,-2,2,-2,5,-2,8,-2,12,-1,-6,-1,-3,-1,3,-1,7,-1,10,0,7,0,10,1,8,1,11,2,9,3,7,-4,15,-2,17,-6,-15,-10,-16,4,-13,6,-15,8,-12,9,-8,11,-10,12,-13,13,-9,14,-11,15,-14,17,-16,14,-18,12,-16,9,-18,7,-14,5,-12,8,-8,10,-10,6,-12,8,-14,12,-17,5,-18,7,-19,3,-13,12,-12,15,-13,17,-12,-2,-15,-6,19,-3,18,1,-13,-4,22,-8,24,-7,14,-10,16,-12,14,-15,10,3,-17];

// ---------- Layout (frame geometry only) ----------
const NS='http://www.w3.org/2000/svg';
const svg=document.getElementById('figure');
const TOP=29,BOTTOM=516.4,SC_TOP=663.7,SC_BOTTOM=1141.4;
const panelFrames={a:[139.6,506.5],b:[514.3,740.2],c:[747.6,955.9],d:[963,1221.5],e:[1229,1384.8],f:[1392.3,1735.2]};
const scatterFrames={g:[133.5,613.5],h:[693.5,1173.4],i:[1253.5,1733.4]};
const ink='#404040';
const labelSize=32.3;
function mk(tag,attrs,parent){const e=document.createElementNS(NS,tag);for(const k in attrs)e.setAttribute(k,attrs[k]);(parent||svg).appendChild(e);return e;}
function txt(s,x,y,size,anchor,parent,fill){const e=mk('text',{x:x,y:y,'font-size':size,'text-anchor':anchor},parent);e.textContent=s;if(fill)e.style.fill=fill;return e;}
const speedY=v=>BOTTOM-(v+100)/200*(BOTTOM-TOP);
const zY=z=>BOTTOM-(z+50)/200*(BOTTOM-TOP);
const scatterY=v=>SC_BOTTOM-(v+50)/170*(SC_BOTTOM-SC_TOP);

function frame(name,x0,x1,y0,y1,parent){
  const r=mk('rect',{x:x0,y:y0,width:x1-x0,height:y1-y0,fill:'none',stroke:ink,'stroke-width':2},parent);
  
  
}
function tick(x1,y1,x2,y2,parent){
  const l=mk('line',{x1:x1,y1:y1,x2:x2,y2:y2,stroke:ink,'stroke-width':1.6},parent);
  
  
}
// Smooth curve through the sampled values (Catmull-Rom to cubic Bezier)
function smoothPath(p){
  let d='M'+p[0][0].toFixed(1)+' '+p[0][1].toFixed(1);
  for(let i=0;i<p.length-1;i++){
    const a=p[Math.max(i-1,0)],b=p[i],c=p[i+1],e=p[Math.min(i+2,p.length-1)];
    d+='C'+(b[0]+(c[0]-a[0])/6).toFixed(1)+' '+(b[1]+(c[1]-a[1])/6).toFixed(1)+' '+(c[0]-(e[0]-b[0])/6).toFixed(1)+' '+(c[1]-(e[1]-b[1])/6).toFixed(1)+' '+c[0].toFixed(1)+' '+c[1].toFixed(1);
  }
  return d;
}
function seriesLine(values,start,lim,x0,x1,yFn,color,name,parent){
  const xFn=d=>x0+(d-lim[0])/(lim[1]-lim[0])*(x1-x0);
  const pts=values.map((v,i)=>[xFn(start+i*sampleStep),yFn(v)]);
  const p=mk('path',{d:smoothPath(pts),fill:'none',stroke:color,'stroke-width':1.9,'stroke-linejoin':'round'},parent);
  
  
}
const gpsColors=['#ff0000','#0000ff','#00f000'];
const defs=mk('defs',{});
function timePanel(id,lim,tickDays,tickLabels,month,spd,zs,spdStarts,zStarts,labelRight,monthCenter){
  const [x0,x1]=panelFrames[id];
  const g=mk('g',{});
  
  
  const cp=mk('clipPath',{id:'clip-'+id},defs);
  mk('rect',{x:x0,y:TOP,width:x1-x0,height:BOTTOM-TOP},cp);
  const lines=mk('g',{'clip-path':'url(#clip-'+id+')'},g);
  spd.forEach((vals,k)=>seriesLine(vals,spdStarts[k],lim,x0,x1,speedY,gpsColors[k],'speed-line-gps'+(k+1),lines));
  zs.forEach((vals,k)=>seriesLine(vals,zStarts[k],lim,x0,x1,zY,gpsColors[k],'z-line-gps'+(k+1),lines));
  frame('panel-frame-'+id,x0,x1,TOP,BOTTOM,g);
  const xFn=d=>x0+(d-lim[0])/(lim[1]-lim[0])*(x1-x0);
  tickDays.forEach((d,i)=>{
    tick(xFn(d),BOTTOM,xFn(d),BOTTOM-6,g);
    tick(xFn(d),TOP,xFn(d),TOP+6,g);
    const t=txt(tickLabels[i],xFn(d),563,labelSize,'middle',g);
    
    
  });
  speedTicks.forEach(v=>{
    tick(x0,speedY(v),x0+6,speedY(v),g);
    tick(x1,speedY(v),x1-6,speedY(v),g);
  });
  const m=txt(month,monthCenter,608,labelSize,'middle',g);
  
  
  const pl=txt('('+id+')',labelRight,68,35,'end',g,'#111');
  
  
}
timePanel('a',panelLimitsA,dayTicksA,dayLabelsA,monthLabels[0],[speedA1,speedA2,speedA3],[zA1,zA2,zA3],speedStartsA,zStartsA,498,322);
timePanel('b',panelLimitsB,dayTicksB,dayLabelsB,monthLabels[1],[speedB1,speedB2,speedB3],[zB1,zB2,zB3],speedStartsB,zStartsB,732,626);
timePanel('c',panelLimitsC,dayTicksC,dayLabelsC,monthLabels[2],[speedC1,speedC2,speedC3],[zC1,zC2,zC3],speedStartsC,zStartsC,945,851);
timePanel('d',panelLimitsD,dayTicksD,dayLabelsD,monthLabels[3],[speedD1,speedD2,speedD3],[zD1,zD2,zD3],speedStartsD,zStartsD,1210,1091.4);
timePanel('e',panelLimitsE,dayTicksE,dayLabelsE,monthLabels[4],[speedE1,speedE2,speedE3],[zE1,zE2,zE3],speedStartsE,zStartsE,1379,1306);
timePanel('f',panelLimitsF,dayTicksF,dayLabelsF,monthLabels[5],[speedF1,speedF2,speedF3],[zF1,zF2,zF3],speedStartsF,zStartsF,1718,1562.7);

// left tick labels (top row)
[100,50,0,-50].forEach((v,i)=>{
  const t=txt(speedTickLabels[i],125,speedY(v)+(v===100?13:13.5),labelSize,'end');
  
  
});
zRightTicks.forEach((z,i)=>{
  const t=txt(zRightLabels[i],1747.5,zY(z)+13.5,labelSize,'start');
  
  
});
function yTitleSpeed(x,y,name){
  const t=mk('text',{'font-size':33,'text-anchor':'middle',transform:'translate('+x+','+y+') rotate(-90)'});
  
  
  t.appendChild(document.createTextNode('Detrended speed (m d'));
  const s=mk('tspan',{'font-size':21,dy:-12},t);s.textContent='-1';
  const e=mk('tspan',{dy:12},t);e.textContent=')';
}
yTitleSpeed(53,216,'y-axis-title-speed-top');
yTitleSpeed(47,902,'y-axis-title-speed-bottom');
const rightTitle=mk('text',{'font-size':labelSize,'text-anchor':'middle',transform:'translate(1866,411) rotate(-90)'});


rightTitle.textContent='Detrended z (m)';

// GPS legend
const legendNames=['GPS1','GPS2','GPS3'];
const legendBaselines=[101,137,173];
legendNames.forEach((s,i)=>{
  const t=txt(s,167,legendBaselines[i],29,'start',null,gpsColors[i]);
  
  
});

// ---------- Scatter panels ----------
const scatterXTicks=[-40,0,40],scatterXLabels=['-0.04','0','0.04'];
const scatterYLabels=['1','0.5','0','-0.5'];
function scatterPanel(id,data,colorIndex,title,titleColor,titleX,labelRight){
  const [x0,x1]=scatterFrames[id];
  const xFn=z=>x0+(z+50)/100*(x1-x0);
  const g=mk('g',{});
  
  
  const cp=mk('clipPath',{id:'clip-'+id},defs);
  mk('rect',{x:x0,y:SC_TOP,width:x1-x0,height:SC_BOTTOM-SC_TOP},cp);
  const marks=mk('g',{'clip-path':'url(#clip-'+id+')'},g);
  data.forEach((pairs,n)=>{
    const k=colorIndex[n];
    for(let i=0;i<pairs.length;i+=2){
      const x=xFn(pairs[i]),y=scatterY(pairs[i+1]);
      const p=mk('path',{d:'M'+(x-5).toFixed(1)+' '+y.toFixed(1)+'h10M'+x.toFixed(1)+' '+(y-5).toFixed(1)+'v10',stroke:yearColors[k],'stroke-width':1.7,fill:'none'},marks);
      
      
    }
  });
  frame('scatter-frame-'+id,x0,x1,SC_TOP,SC_BOTTOM,g);
  scatterXTicks.forEach((z,i)=>{
    tick(xFn(z),SC_BOTTOM,xFn(z),SC_BOTTOM-6,g);
    tick(xFn(z),SC_TOP,xFn(z),SC_TOP+6,g);
    const t=txt(scatterXLabels[i],xFn(z),1189,labelSize,'middle',g);
    
    
  });
  [100,50,0].forEach(v=>{
    tick(x0,scatterY(v),x0+6,scatterY(v),g);
    tick(x1,scatterY(v),x1-6,scatterY(v),g);
  });
  [100,50,0,-50].forEach((v,i)=>{
    const t=txt(scatterYLabels[i],x0-14.5,scatterY(v)+13.5,labelSize,'end',g);
    
    
  });
  const xt=txt('Detrended z (m)',(x0+x1)/2,1235,labelSize,'middle',g,'#1a1a1a');
  
  
  const tt=txt(title,titleX,733,31,'start',g,titleColor);
  
  
  const pl=txt('('+id+')',labelRight,705.5,35,'end',g,'#111');
  
  
}
scatterPanel('g',[g2013,g2014,g2015,g2016,g2017,g2019,g2019core,g2017core],[0,1,2,3,4,5,5,4],'GPS1','#ff0000',159,608);
scatterPanel('h',[h2013,h2014,h2015,h2016,h2017,h2019,h2019core],[0,1,2,3,4,5,5],'GPS2','#0000ff',718.7,1168);
scatterPanel('i',[i2013,i2014,i2015,i2016,i2019,i2019core,i2017],[0,1,2,3,5,5,4],'GPS3','#00f000',1278.7,1725);

const yearBaselines=[781.5,812,843,874,905,936];
years.forEach((y,i)=>{
  const t=txt(y,158,yearBaselines[i],28.5,'start',null,yearColors[i]);
  
  
});
</script>
</body></html>
